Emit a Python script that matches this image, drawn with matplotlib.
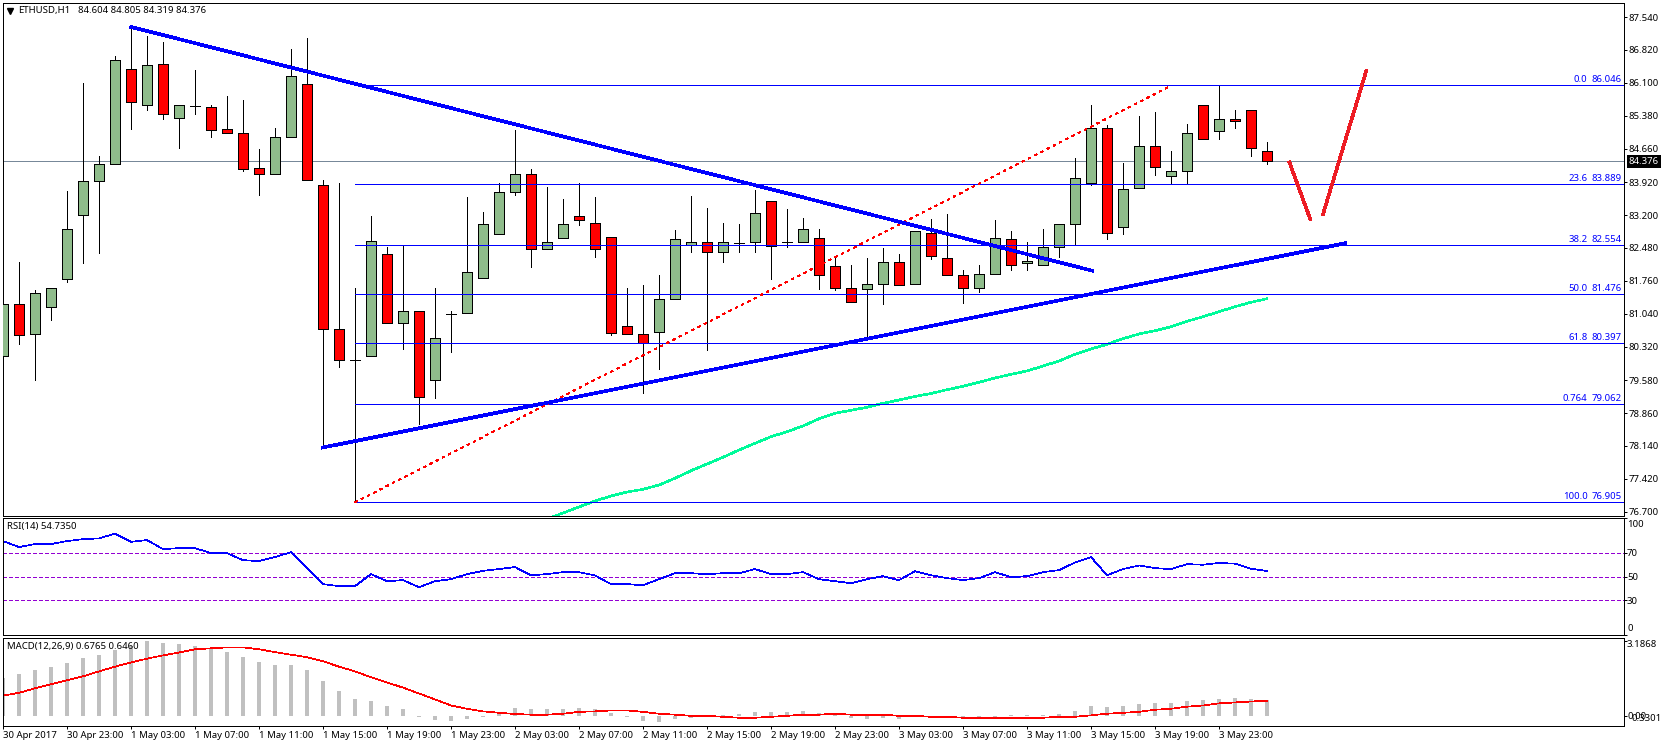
import matplotlib
matplotlib.use("Agg")
import matplotlib.pyplot as plt
from matplotlib.transforms import blended_transform_factory

plt.rcParams["font.family"] = ["Noto Sans", "DejaVu Sans"]
plt.rcParams["lines.antialiased"] = False
plt.rcParams["patch.antialiased"] = False

# hourly ETHUSD candles, 30 Apr 19:00 onwards
opens = [80.106, 81.246, 80.588, 81.180, 81.794, 83.197, 83.942, 84.315, 86.397, 85.608,
         86.507, 85.323, 85.599, 85.564, 85.082, 84.994, 84.227, 84.095, 84.906, 86.068,
         83.854, 80.698, 80.031, 80.106, 82.342, 80.829, 81.092, 79.580, 81.040, 81.048,
         81.816, 82.780, 83.701, 84.095, 82.451, 82.692, 83.175, 83.021, 82.714, 80.763,
         80.588, 80.632, 81.355, 82.539, 82.605, 82.386, 82.589, 82.605, 83.503, 82.605,
         82.605, 82.692, 82.079, 81.596, 81.574, 81.684, 82.166, 81.684, 82.802, 82.254,
         81.881, 81.596, 81.903, 82.671, 82.145, 82.101, 82.495, 82.999, 83.898, 85.104,
         82.934, 83.789, 84.709, 84.051, 84.161, 85.608, 85.038, 85.301, 85.498, 84.604]
highs = [82.589, 82.173, 81.559, 81.596, 83.729, 86.090, 84.496, 86.688, 87.331, 87.127,
         86.995, 85.608, 86.382, 85.614, 85.812, 85.724, 84.650, 85.110, 86.842, 87.083,
         83.970, 83.905, 81.603, 83.181, 82.502, 82.539, 81.092, 81.603, 81.099, 83.598,
         83.269, 83.905, 85.066, 84.212, 83.817, 83.554, 83.905, 83.598, 82.721, 81.603,
         81.669, 81.888, 82.874, 83.620, 83.357, 83.028, 83.006, 83.751, 83.510, 83.335,
         83.137, 82.896, 82.304, 82.101, 82.261, 82.480, 82.342, 82.846, 83.116, 83.225,
         81.998, 82.101, 83.094, 82.852, 82.611, 82.896, 82.999, 84.453, 85.614, 85.169,
         84.343, 85.373, 85.461, 84.606, 85.198, 85.608, 86.046, 85.505, 85.498, 84.805]
lows = [80.106, 80.382, 79.593, 80.908, 81.741, 82.158, 82.377, 84.315, 85.095, 85.511,
        85.314, 84.678, 85.424, 84.920, 84.994, 84.174, 83.648, 84.095, 84.906, 83.964,
        78.096, 79.878, 76.905, 80.106, 80.829, 80.272, 78.620, 79.198, 80.207, 81.048,
        81.816, 82.780, 83.648, 82.070, 82.451, 82.692, 82.984, 82.289, 80.579, 80.588,
        79.308, 79.834, 81.355, 82.399, 80.251, 82.180, 82.399, 82.399, 81.807, 82.508,
        82.605, 81.588, 81.559, 81.290, 80.522, 81.259, 81.662, 81.684, 82.245, 81.881,
        81.281, 81.522, 81.903, 81.991, 82.004, 82.101, 82.289, 82.539, 83.854, 82.684,
        82.793, 83.789, 84.087, 83.876, 83.876, 84.863, 84.863, 85.104, 84.490, 84.319]
closes = [81.246, 80.566, 81.487, 81.596, 82.890, 83.942, 84.315, 86.594, 85.674, 86.485,
          85.411, 85.608, 85.599, 85.060, 84.994, 84.205, 84.095, 84.906, 86.244, 83.964,
          80.698, 80.018, 80.031, 82.633, 80.829, 81.092, 79.207, 80.501, 81.040, 81.947,
          82.999, 83.701, 84.095, 82.451, 82.605, 82.999, 83.087, 82.451, 80.610, 80.588,
          80.391, 81.355, 82.671, 82.605, 82.386, 82.605, 82.589, 83.240, 82.524, 82.605,
          82.890, 81.881, 81.596, 81.290, 81.684, 82.166, 81.662, 82.846, 82.298, 81.881,
          81.596, 81.903, 82.692, 82.101, 82.188, 82.495, 82.999, 84.008, 85.104, 82.802,
          83.767, 84.709, 84.249, 84.161, 84.994, 84.863, 85.301, 85.257, 84.665, 84.376]

# moving average only shows from candle 34 on
ma_start = 34
ma_values = [76.540, 76.671, 76.803, 76.934, 77.044, 77.131, 77.190, 77.285, 77.432, 77.598,
             77.745, 77.892, 78.052, 78.199, 78.344, 78.453, 78.578, 78.738, 78.856, 78.922,
             78.988, 79.076, 79.148, 79.225, 79.290, 79.374, 79.448, 79.536, 79.630, 79.711,
             79.784, 79.893, 80.003, 80.150, 80.266, 80.369, 80.492, 80.595, 80.667, 80.755,
             80.873, 80.974, 81.084, 81.193, 81.290, 81.368]

rsi_values = [80.1, 75, 77.6, 77.6, 80.1, 81.8, 82.4, 86.4, 79.5, 81,
              73.3, 74.1, 74.1, 69.9, 69.9, 63.9, 63.1, 66.5, 70.7, 57.1,
              43.5, 41.8, 41.8, 52, 46, 46.9, 40.9, 46, 47.7, 52,
              54.8, 56.3, 58, 51.1, 52, 53.7, 53.7, 50.9, 43.5, 43.5,
              42.6, 47.7, 52.8, 52.8, 52, 52.8, 52.8, 56.3, 52, 52,
              53.7, 47.7, 46, 44.3, 47.7, 50.3, 46.9, 54.5, 51.1, 48.6,
              46.9, 48.6, 53.7, 49.4, 50.3, 53.7, 55.4, 61.9, 66.5, 51.1,
              56.3, 59.4, 57.1, 56.3, 60.5, 60.0, 61.5, 60.9, 56.6, 54.735]

macd_hist = [1.62, 1.79, 1.96, 2.09, 2.26, 2.47, 2.60, 2.81, 2.98, 3.17,
             3.11, 3.06, 2.98, 2.85, 2.72, 2.51, 2.30, 2.17, 2.17, 1.96,
             1.49, 1.06, 0.72, 0.64, 0.43, 0.30, -0.03, -0.17, -0.21, -0.13,
             -0.03, 0.17, 0.34, 0.30, 0.30, 0.30, 0.34, 0.30, 0.13, -0.06,
             -0.21, -0.26, -0.13, -0.09, -0.04, 0.04, 0.09, 0.17, 0.17, 0.17,
             0.21, 0.13, 0.04, -0.09, -0.13, -0.09, -0.13, 0.03, -0.03, -0.05,
             -0.13, -0.13, -0.05, 0.03, 0.03, 0.03, 0.09, 0.21, 0.43, 0.38,
             0.43, 0.51, 0.55, 0.55, 0.64, 0.68, 0.72, 0.77, 0.72, 0.6765]
macd_signal = [0.87, 0.99, 1.18, 1.35, 1.52, 1.69, 1.90, 2.10, 2.28, 2.44,
               2.58, 2.70, 2.84, 2.88, 2.92, 2.92, 2.84, 2.72, 2.61, 2.50,
               2.33, 2.10, 1.90, 1.65, 1.43, 1.21, 0.96, 0.71, 0.45, 0.31,
               0.20, 0.14, 0.09, 0.06, 0.06, 0.10, 0.18, 0.20, 0.24, 0.24,
               0.18, 0.10, 0.06, 0.01, 0.01, -0.03, -0.07, -0.07, -0.03, 0.01,
               0.06, 0.06, 0.10, 0.06, 0.06, 0.06, 0.01, 0.01, -0.03, -0.03,
               -0.07, -0.07, -0.07, -0.07, -0.07, -0.07, -0.03, -0.03, 0.03, 0.10,
               0.14, 0.18, 0.27, 0.31, 0.40, 0.45, 0.54, 0.58, 0.62, 0.646]

fib_levels = ["0.0", "23.6", "38.2", "50.0", "61.8", "0.764", "100.0"]
fib_prices = [86.046, 83.889, 82.554, 81.476, 80.397, 79.062, 76.905]
fib_start = 22
fib_diag_x = [22, 72.8]
fib_diag_y = [76.905, 86.0]

# hand drawn lines on the chart: (x in candles, price)
trend_down_x, trend_down_y = [8.02, 68.08], [87.324, 81.982]
trend_up_x, trend_up_y = [20, 83.88], [78.107, 82.583]
arrow_x = [[80.4, 81.7], [82.5, 85.2]]
arrow_y = [[84.358, 83.115], [83.218, 86.359]]

bid_price = 84.376
price_ticks = [87.54, 86.82, 86.10, 85.38, 84.66, 83.92, 83.20, 82.48, 81.76, 81.04,
               80.32, 79.58, 78.86, 78.14, 77.42, 76.70]
time_labels = ["30 Apr 2017", "30 Apr 23:00", "1 May 03:00", "1 May 07:00", "1 May 11:00",
               "1 May 15:00", "1 May 19:00", "1 May 23:00", "2 May 03:00", "2 May 07:00",
               "2 May 11:00", "2 May 15:00", "2 May 19:00", "2 May 23:00", "3 May 03:00",
               "3 May 07:00", "3 May 11:00", "3 May 15:00", "3 May 19:00", "3 May 23:00"]

W, H = 1663, 746
PX = 0.72  # points per pixel at dpi 100
THIN = 0.5  # sloped lines snap thicker when not antialiased
FS = 6.9
XLIM = (-0.03, 101.28)


def make_axes(top, bottom, ylim):
    ax = fig.add_axes([2.5 / W, 1 - bottom / H, 1621 / W, (bottom - top) / H])
    ax.set_xlim(*XLIM)
    ax.set_ylim(*ylim)
    ax.set_xticks([])
    ax.yaxis.tick_right()
    ax.tick_params(axis="y", length=3 * PX, width=PX, labelsize=FS, pad=1.5)
    for s in ax.spines.values():
        s.set_linewidth(PX)
    return ax


def px_text(ax, x_px, y_px, text, **kw):
    # text placed by figure pixel, used for the chart headers and side labels
    ax.text(x_px / W, 1 - y_px / H, text, transform=fig.transFigure, fontsize=FS,
            va="center", clip_on=False, **kw)


fig = plt.figure(figsize=(W / 100, H / 100), dpi=100, facecolor="white")

# ---- price panel
ax = make_axes(2.5, 515.5, (76.616, 87.861))
ax.set_yticks(price_ticks)
ax.set_yticklabels(["%.3f" % p for p in price_ticks])
ax.axhline(bid_price, color="#778899", lw=PX, zorder=1)

idx = list(range(len(closes)))
ax.vlines(idx, lows, highs, color="black", lw=PX, zorder=2)
for i in idx:
    col = "#8FBC8B" if closes[i] >= opens[i] else "#FF0000"
    ax.bar(i, closes[i] - opens[i], bottom=opens[i], width=0.625, color=col,
           edgecolor="black", linewidth=PX, zorder=3)

ax.plot(range(ma_start, ma_start + len(ma_values)), ma_values, color="#00FA9A", lw=1.6 * PX, zorder=4)

for level, price in zip(fib_levels, fib_prices):
    ax.plot([fib_start, XLIM[1]], [price, price], color="#0000FF", lw=PX, zorder=5)
    tr = blended_transform_factory(ax.transAxes, ax.transData)
    ax.annotate("%.3f" % price, (1, price), xycoords=tr, xytext=(-2 * PX, 1 * PX),
                textcoords="offset points", ha="right", va="bottom", fontsize=FS, color="#0000FF")
    ax.annotate(level, (1, price), xycoords=tr, xytext=(-36 * PX, 1 * PX),
                textcoords="offset points", ha="right", va="bottom", fontsize=FS, color="#0000FF")
ax.plot(fib_diag_x, fib_diag_y, color="#FF0000", lw=THIN, ls=(0, (3, 6)), zorder=5)

ax.plot(trend_down_x, trend_down_y, color="#0000FF", lw=2.6 * PX, zorder=6)
ax.plot(trend_up_x, trend_up_y, color="#0000FF", lw=2.6 * PX, zorder=6)
for xs, ys in zip(arrow_x, arrow_y):
    ax.plot(xs, ys, color="#ED1C24", lw=2.6 * PX, zorder=6)

# current price box on the axis
tr = blended_transform_factory(ax.transAxes, ax.transData)
ax.annotate("%.3f" % bid_price, (1, bid_price), xycoords=tr, xytext=(5.2 * PX, 0),
            textcoords="offset points", ha="left", va="center", fontsize=FS, color="white",
            annotation_clip=False, zorder=10,
            bbox=dict(boxstyle="square,pad=0.18", fc="black", ec="black", lw=0))

ax.plot([9.5 / W], [1 - 10.5 / H], marker="v", ms=4.2, color="black", transform=fig.transFigure,
        clip_on=False, ls="none")
px_text(ax, 18, 10.5, "ETHUSD,H1", color="black")
px_text(ax, 78, 10.5, "%.3f %.3f %.3f %.3f" % (opens[-1], highs[-1], lows[-1], closes[-1]), color="black")

# ---- RSI panel
ax_rsi = make_axes(517.7, 635.3, (0, 100))
for lvl in [70, 50, 30]:
    ax_rsi.axhline(lvl, color="#9400D3", lw=PX, ls=(0, (3, 2.5)), zorder=1)
ax_rsi.plot(idx, rsi_values, color="#0000FF", lw=THIN, zorder=2)
ax_rsi.set_yticks([100, 70, 50, 30, 0])
ax_rsi.set_yticklabels(["", "70", "50", "30", ""])
ax_rsi.tick_params(axis="y", pad=0.3)
px_text(ax_rsi, 1627, 524.3, "100")
px_text(ax_rsi, 1627, 628.3, "0")
px_text(ax_rsi, 7, 526.7, "RSI(14) 54.7350")

# ---- MACD panel
ax_macd = make_axes(637.5, 725.7, (-0.409, 3.34))
ax_macd.bar(idx, macd_hist, width=0.19, color="#C0C0C0", zorder=1)
ax_macd.plot(idx, macd_signal, color="#FF0000", lw=THIN, zorder=2)
ax_macd.set_yticks([3.1868, 0])
ax_macd.set_yticklabels(["", ""])
px_text(ax_macd, 1627, 644.3, "3.1868")
px_text(ax_macd, 1627, 716.7, "0.00")
px_text(ax_macd, 1631, 718.2, "0.3301")
px_text(ax_macd, 7, 646.7, "MACD(12,26,9) 0.6765 0.6460")

tick_pos = [i * 4 for i in range(len(time_labels))]
ax_macd.set_xticks(tick_pos)
ax_macd.set_xticklabels(time_labels, ha="left", fontsize=FS)
ax_macd.tick_params(axis="x", length=3 * PX, width=PX, pad=1.5)

fig.savefig("out.png", dpi=100)
